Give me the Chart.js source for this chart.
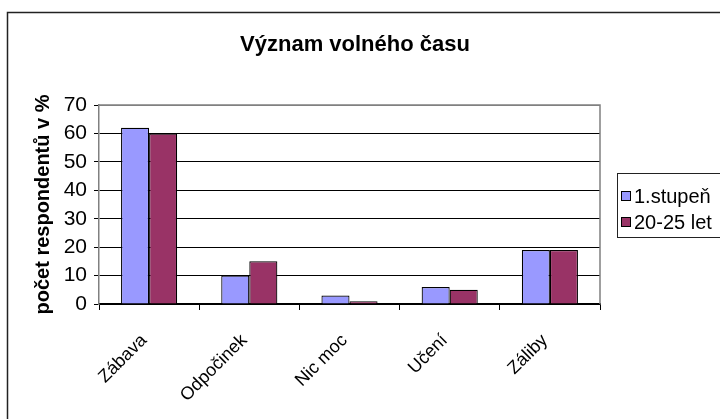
<!DOCTYPE html>
<html>
<head>
<meta charset="utf-8">
<script src="https://cdn.jsdelivr.net/npm/chart.js@4"></script>
<style>
  html, body { margin: 0; padding: 0; background: #fff; }
  #wrap { width: 720px; height: 419px; }
</style>
</head>
<body>
<div id="wrap"><canvas id="leisureChart" width="720" height="419"></canvas></div>
<script>
const categories = ['Zábava', 'Odpočinek', 'Nic moc', 'Učení', 'Záliby'];
const stupen1 = [62, 10, 3, 6, 19];
const let2025 = [60, 15, 1, 5, 19];
const seriesNames = ['1.stupeň', '20-25 let'];
const seriesColors = ['#9999FF', '#993366'];
const yTicks = [0, 10, 20, 30, 40, 50, 60, 70];

const fontFamily = '"Liberation Sans", Arial, sans-serif';

// outer frame + gray plot border
const frame = {
  id: 'frame',
  beforeDraw(chart) {
    const ctx = chart.ctx;
    ctx.save();
    ctx.strokeStyle = '#222';
    ctx.lineWidth = 1.5;
    ctx.beginPath();
    ctx.moveTo(7.5, 419);
    ctx.lineTo(7.5, 12.5);
    ctx.lineTo(720, 12.5);
    ctx.stroke();
    ctx.restore();
  },
  afterDatasetsDraw(chart) {
    const { ctx, chartArea: a } = chart;
    ctx.save();
    ctx.strokeStyle = '#808080';
    ctx.lineWidth = 1.5;
    ctx.beginPath();
    ctx.moveTo(a.left, a.top);
    ctx.lineTo(a.right, a.top);
    ctx.lineTo(a.right, a.bottom);
    ctx.stroke();
    ctx.restore();
  }
};

// legend box at the right, drawn from the datasets
const boxLegend = {
  id: 'boxLegend',
  afterDraw(chart) {
    const ctx = chart.ctx;
    ctx.save();
    ctx.strokeStyle = '#222';
    ctx.lineWidth = 1;
    ctx.strokeRect(617.5, 173.5, 140, 64);
    ctx.font = '20px ' + fontFamily;
    ctx.textBaseline = 'middle';
    chart.data.datasets.forEach((ds, i) => {
      const y = 196 + i * 26;
      ctx.fillStyle = ds.backgroundColor;
      ctx.fillRect(621.5, y - 4.5, 9, 9);
      ctx.strokeStyle = '#000';
      ctx.strokeRect(621.5, y - 4.5, 9, 9);
      ctx.fillStyle = '#000';
      ctx.fillText(ds.label, 634, y + 1);
    });
    ctx.restore();
  }
};

new Chart(document.getElementById('leisureChart'), {
  type: 'bar',
  data: {
    labels: categories,
    datasets: [
      { label: seriesNames[0], data: stupen1, backgroundColor: seriesColors[0], borderColor: '#000', borderWidth: 1.2 },
      { label: seriesNames[1], data: let2025, backgroundColor: seriesColors[1], borderColor: '#000', borderWidth: 1.2 },
    ],
  },
  options: {
    responsive: false,
    animation: false,
    layout: { padding: { left: 0, top: 0, right: 10, bottom: 0 } },
    datasets: { bar: { categoryPercentage: 0.56, barPercentage: 1 } },
    plugins: {
      legend: { display: false },
      tooltip: { enabled: false },
      title: {
        display: true,
        text: 'Význam volného času',
        color: '#000',
        font: { family: fontFamily, size: 22, weight: 'bold' },
        padding: { top: 32, bottom: 46.6 },
      },
    },
    scales: {
      x: {
        afterFit(scale) { scale.height = 115; },
        grid: { offset: true, drawOnChartArea: false, tickLength: 6, tickColor: '#000' },
        border: { color: '#000', width: 1.5 },
        ticks: {
          color: '#000',
          minRotation: 45,
          maxRotation: 45,
          padding: 20,
          labelOffset: -5,
          font: { family: fontFamily, size: 18 },
        },
      },
      y: {
        min: 0,
        max: 70,
        afterFit(scale) { scale.width = 99; },
        afterBuildTicks(scale) { scale.ticks = yTicks.map(v => ({ value: v })); },
        grid: { color: (c) => c.tick && c.tick.value === 70 ? '#808080' : '#000', tickLength: 5, tickColor: '#000' },
        border: { color: '#808080', width: 1.5 },
        ticks: { color: '#000', padding: 7, font: { family: fontFamily, size: 21 } },
        title: {
          display: true,
          text: 'počet respondentů v %',
          color: '#000',
          font: { family: fontFamily, size: 20, weight: 'bold' },
          padding: { top: 31, bottom: 0 },
        },
      },
      // empty right axis keeps room for the legend box
      gap: {
        type: 'linear',
        position: 'right',
        afterFit(scale) { scale.width = 110; },
        grid: { display: false },
        border: { display: false },
        ticks: { display: false },
      },
    },
  },
  plugins: [frame, boxLegend],
});
</script>
</body>
</html>
